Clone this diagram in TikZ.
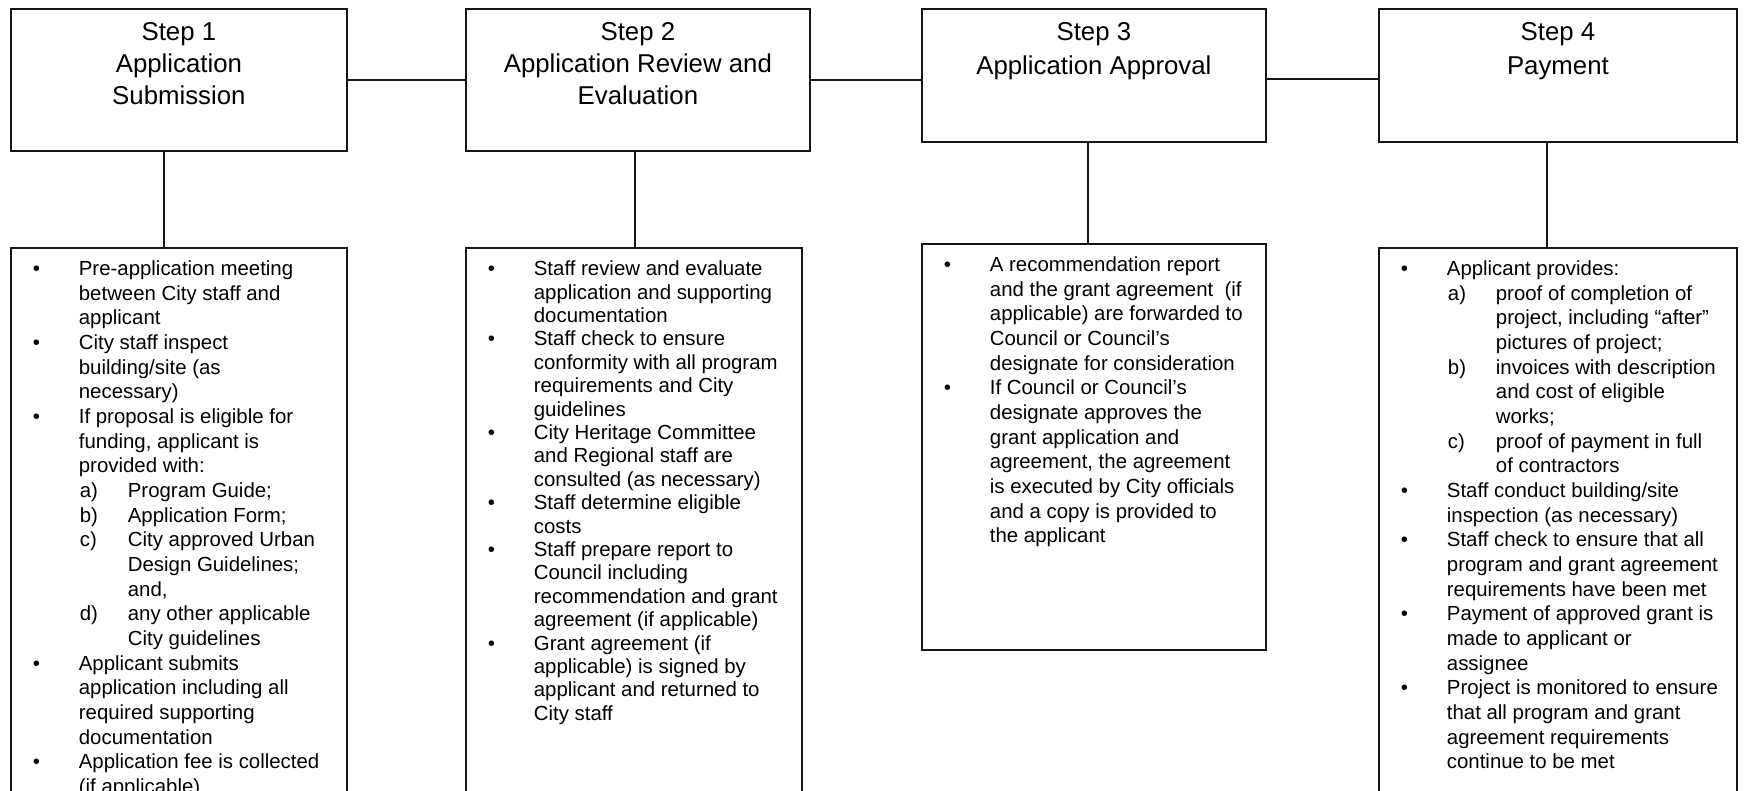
\documentclass[tikz,border=0pt]{standalone}
\usepackage{fontspec}
\setmainfont{Liberation Sans}
\usepackage{tikz}
\usetikzlibrary{positioning}
\definecolor{boxline}{RGB}{22,22,22}
\tikzstyle{stepbox} = [draw=boxline, line width=1.8pt, inner sep=0pt, anchor=north west]
\tikzstyle{link} = [draw=boxline, line width=1.5pt]
\newcommand{\titlebox}[3]{\parbox[c][#2pt][t]{#1pt}{\centering\fontsize{25.8}{32}\selectfont\vspace*{13.5pt}#3}}
\newcommand{\detailbox}[4][24.65]{\parbox[c][#3pt][t]{#2pt}{\raggedright\fontsize{20.4}{#1}\selectfont\vspace*{13pt}#4}}
\newcommand{\bitem}[1]{\makebox[68pt][l]{\hspace{22pt}\textbullet}\mbox{#1}}
\newcommand{\bcont}[1]{\hspace*{68pt}\mbox{#1}}
\newcommand{\sitem}[2]{\hspace*{69pt}\makebox[48pt][l]{#1}\mbox{#2}}
\newcommand{\scont}[1]{\hspace*{117pt}\mbox{#1}}

\begin{document}
\begin{tikzpicture}[x=1pt, y=-1pt]
    \useasboundingbox (0,0) rectangle (1745,791);
    \clip (0,0) rectangle (1745,791);
    \node[stepbox] (s1) at (10,8)   {\titlebox{336}{142}{Step 1\\Application\\Submission}};
    \node[stepbox] (s2) at (465,8)  {\titlebox{344}{142}{Step 2\\Application Review and\\Evaluation}};
    \node[stepbox] (s3) at (921,8)  {\titlebox{344}{133}{Step 3\\[2pt]Application Approval}};
    \node[stepbox] (s4) at (1378,8) {\titlebox{358}{133}{Step 4\\[2pt]Payment}};
    \node[stepbox] (d1) at (10,247) {\detailbox{336}{600}{%
        \bitem{Pre-application meeting}\\
        \bcont{between City staff and}\\
        \bcont{applicant}\\
        \bitem{City staff inspect}\\
        \bcont{building/site (as}\\
        \bcont{necessary)}\\
        \bitem{If proposal is eligible for}\\
        \bcont{funding, applicant is}\\
        \bcont{provided with:}\\
        \sitem{a)}{Program Guide;}\\
        \sitem{b)}{Application Form;}\\
        \sitem{c)}{City approved Urban}\\
        \scont{Design Guidelines;}\\
        \scont{and,}\\
        \sitem{d)}{any other applicable}\\
        \scont{City guidelines}\\
        \bitem{Applicant submits}\\
        \bcont{application including all}\\
        \bcont{required supporting}\\
        \bcont{documentation}\\
        \bitem{Application fee is collected}\\
        \bcont{(if applicable)}}};
    \node[stepbox] (d2) at (465,247) {\detailbox[23.4]{336}{600}{%
        \bitem{Staff review and evaluate}\\
        \bcont{application and supporting}\\
        \bcont{documentation}\\
        \bitem{Staff check to ensure}\\
        \bcont{conformity with all program}\\
        \bcont{requirements and City}\\
        \bcont{guidelines}\\
        \bitem{City Heritage Committee}\\
        \bcont{and Regional staff are}\\
        \bcont{consulted (as necessary)}\\
        \bitem{Staff determine eligible}\\
        \bcont{costs}\\
        \bitem{Staff prepare report to}\\
        \bcont{Council including}\\
        \bcont{recommendation and grant}\\
        \bcont{agreement (if applicable)}\\
        \bitem{Grant agreement (if}\\
        \bcont{applicable) is signed by}\\
        \bcont{applicant and returned to}\\
        \bcont{City staff}}};
    \node[stepbox] (d3) at (921,243) {\detailbox{344}{406}{%
        \bitem{A recommendation report}\\
        \bcont{and the grant agreement\ \ (if}\\
        \bcont{applicable) are forwarded to}\\
        \bcont{Council or Council's}\\
        \bcont{designate for consideration}\\
        \bitem{If Council or Council's}\\
        \bcont{designate approves the}\\
        \bcont{grant application and}\\
        \bcont{agreement, the agreement}\\
        \bcont{is executed by City officials}\\
        \bcont{and a copy is provided to}\\
        \bcont{the applicant}}};
    \node[stepbox] (d4) at (1378,247) {\detailbox{358}{600}{%
        \bitem{Applicant provides:}\\
        \sitem{a)}{proof of completion of}\\
        \scont{project, including ``after''}\\
        \scont{pictures of project;}\\
        \sitem{b)}{invoices with description}\\
        \scont{and cost of eligible}\\
        \scont{works;}\\
        \sitem{c)}{proof of payment in full}\\
        \scont{of contractors}\\
        \bitem{Staff conduct building/site}\\
        \bcont{inspection (as necessary)}\\
        \bitem{Staff check to ensure that all}\\
        \bcont{program and grant agreement}\\
        \bcont{requirements have been met}\\
        \bitem{Payment of approved grant is}\\
        \bcont{made to applicant or}\\
        \bcont{assignee}\\
        \bitem{Project is monitored to ensure}\\
        \bcont{that all program and grant}\\
        \bcont{agreement requirements}\\
        \bcont{continue to be met}}};
    \draw[link] (s1.east) -- (s2.west);
    \draw[link] (s2.east) -- (s2.east -| s3.west);
    \draw[link] ([yshift=-3.5pt]s3.east) -- ([yshift=-3.5pt]s4.west);
    \draw[link] ([xshift=-15pt]s1.south) -- ([xshift=-15pt]s1.south |- d1.north);
    \draw[link] ([xshift=-3pt]s2.south) -- ([xshift=-3pt]s2.south |- d2.north);
    \draw[link] ([xshift=-6pt]s3.south) -- ([xshift=-6pt]s3.south |- d3.north);
    \draw[link] ([xshift=-11pt]s4.south) -- ([xshift=-11pt]s4.south |- d4.north);
\end{tikzpicture}
\end{document}
